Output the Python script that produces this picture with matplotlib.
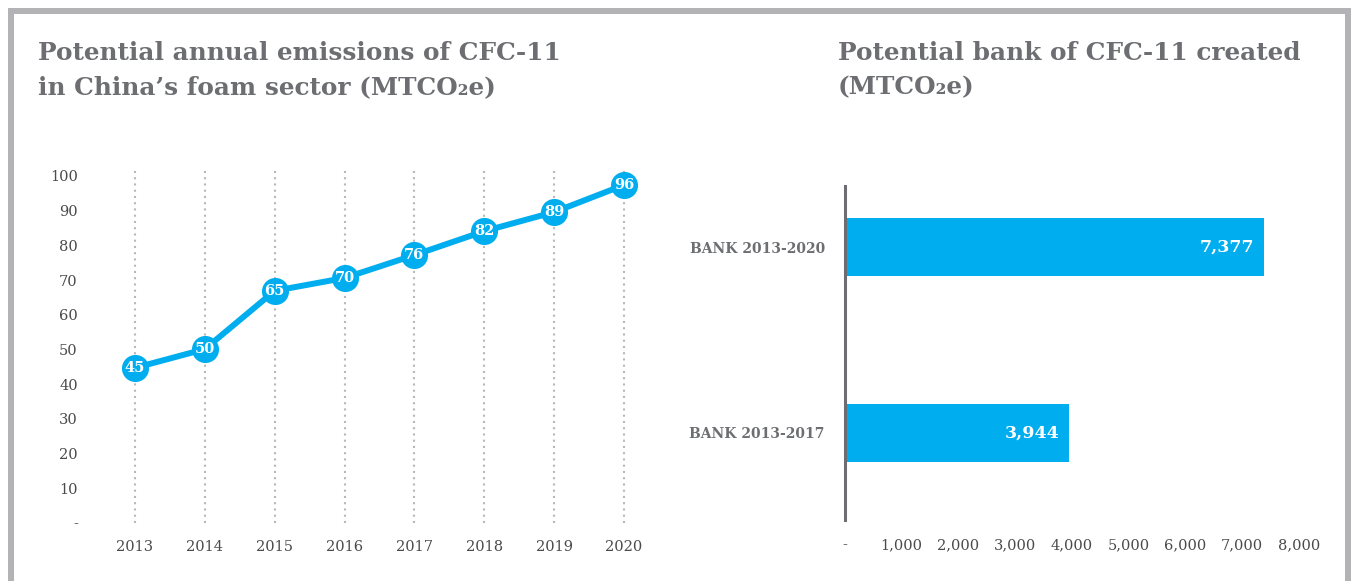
import matplotlib
matplotlib.use('Agg')
import matplotlib.pyplot as plt
from matplotlib.patches import Rectangle

# data
years = [2013, 2014, 2015, 2016, 2017, 2018, 2019, 2020]
emissions = [44.7, 50.1, 66.9, 70.6, 77.2, 84.1, 89.6, 97.4]
emission_labels = ['45', '50', '65', '70', '76', '82', '89', '96']
y_ticks = [0, 10, 20, 30, 40, 50, 60, 70, 80, 90, 100]
y_ticklabels = ['-', '10', '20', '30', '40', '50', '60', '70', '80', '90', '100']

banks = ['BANK 2013-2017', 'BANK 2013-2020']
bank_values = [3944, 7377]
x_ticks = [0, 1000, 2000, 3000, 4000, 5000, 6000, 7000, 8000]
x_ticklabels = ['-', '1,000', '2,000', '3,000', '4,000', '5,000', '6,000', '7,000', '8,000']

W, H = 1351, 581
BLUE = '#00aeef'
GREY_TXT = '#6d6e71'
TICK = '#4a4a4a'
SERIF = 'DejaVu Serif'

fig = plt.figure(figsize=(W / 100, H / 100), dpi=100)


def px(x0, y0, x1, y1):
    # pixel box (top-left origin) -> figure fraction rect
    return [x0 / W, 1 - y1 / H, (x1 - x0) / W, (y1 - y0) / H]


# grey frame
fig.add_artist(Rectangle((8 / W, 0), 1 - 8 / W, 1 - 8 / H, transform=fig.transFigure,
                         facecolor='#b3b3b6', edgecolor='none', zorder=0))
fig.add_artist(Rectangle((14 / W, 0), (1345 - 14) / W, 1 - 14 / H, transform=fig.transFigure,
                         facecolor='white', edgecolor='none', zorder=0))

# titles, one line at a time
title_kw = dict(family=SERIF, weight='bold', fontsize=17.8, color=GREY_TXT,
                va='baseline', ha='left')
fig.text(38 / W, 1 - 60 / H, 'Potential annual emissions of CFC-11', **title_kw)
fig.text(38 / W, 1 - 94 / H, 'in China\u2019s foam sector (MTCO\u2082e)', **title_kw)
fig.text(838 / W, 1 - 60 / H, 'Potential bank of CFC-11 created', **title_kw)
fig.text(838 / W, 1 - 94 / H, '(MTCO\u2082e)', **title_kw)

# ---- left: line chart
ax = fig.add_axes(px(100, 169, 659, 523))
ax.set_xlim(2012.5, 2020.5)
ax.set_ylim(0, 102)
for s in ax.spines.values():
    s.set_visible(False)
ax.set_xticks(years)
ax.set_xticklabels([str(y) for y in years])
ax.set_yticks(y_ticks)
ax.set_yticklabels(y_ticklabels)
ax.tick_params(length=0, colors=TICK, labelsize=10.5)
ax.tick_params(axis='x', pad=12)
ax.tick_params(axis='y', pad=16)
for lab in ax.get_xticklabels() + ax.get_yticklabels():
    lab.set_family(SERIF)
ax.grid(axis='x', color='#b8b8b8', linestyle=(0, (1, 2)), linewidth=1.5)
ax.plot(years, emissions, color=BLUE, linewidth=4.3, marker='o', markersize=19.5,
        markerfacecolor=BLUE, markeredgewidth=0, zorder=3, clip_on=False)
for x, y, t in zip(years, emissions, emission_labels):
    ax.text(x, y, t, color='white', fontsize=10.5, weight='bold', family=SERIF,
            ha='center', va='center', zorder=4)

# ---- right: bar chart
bx = fig.add_axes(px(845, 186, 1299, 520))
bx.set_xlim(0, 8000)
bx.set_ylim(-0.47, 1.33)
bx.barh(range(len(banks)), bank_values, height=0.31, color=BLUE, zorder=2)
for s in ['top', 'right', 'bottom']:
    bx.spines[s].set_visible(False)
bx.spines['left'].set_color('#6d6e71')
bx.spines['left'].set_linewidth(2.2)
bx.set_xticks(x_ticks)
bx.set_xticklabels(x_ticklabels)
bx.set_yticks(range(len(banks)))
bx.set_yticklabels(banks)
bx.tick_params(length=0, colors=TICK, labelsize=10.5)
bx.tick_params(axis='x', pad=13)
bx.tick_params(axis='y', pad=14.5)
for lab in bx.get_xticklabels():
    lab.set_family(SERIF)
for lab in bx.get_yticklabels():
    lab.set_family(SERIF)
    lab.set_fontweight('bold')
    lab.set_fontsize(10)
    lab.set_color(GREY_TXT)
for i, v in enumerate(bank_values):
    bx.text(v - 160, i, f'{v:,}', color='white', fontsize=12.5, weight='bold', family=SERIF,
            ha='right', va='center', zorder=3)

fig.savefig('out.png', dpi=100)
